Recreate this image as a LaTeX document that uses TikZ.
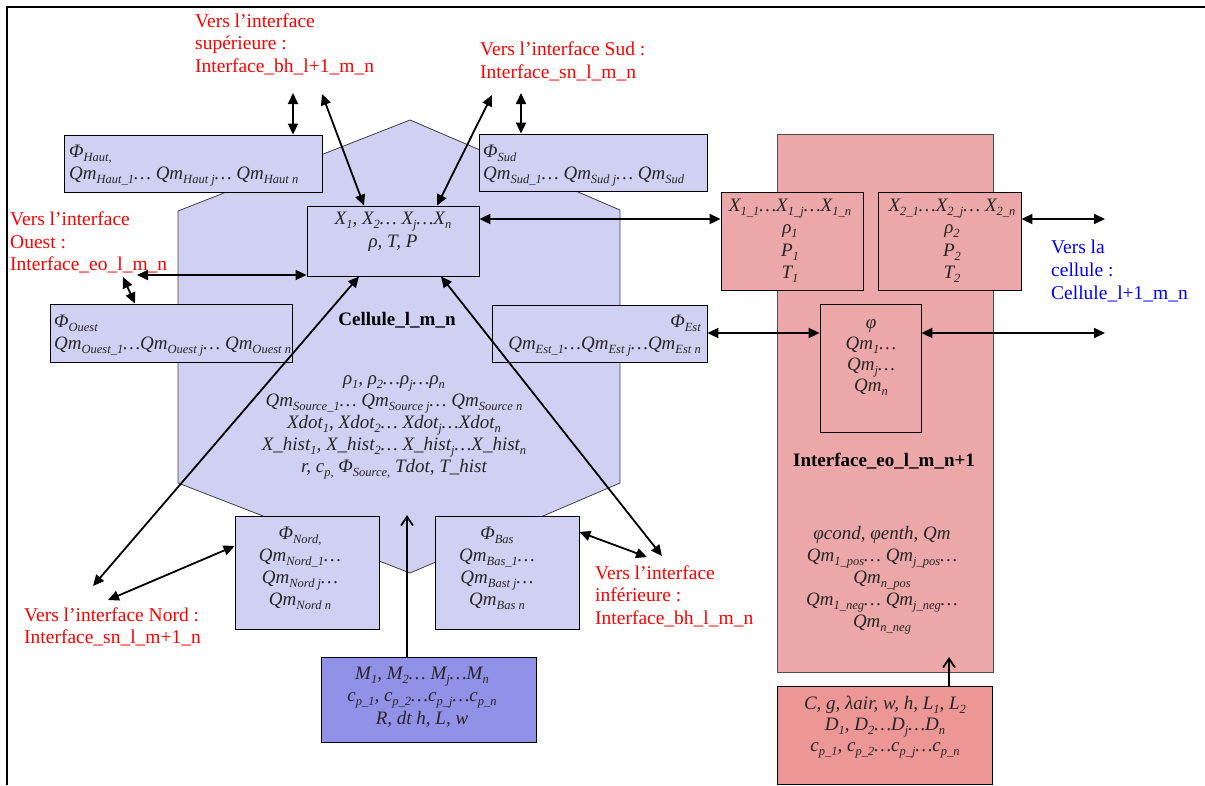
\documentclass[tikz,border=0pt]{standalone}
\usepackage{fontspec}
\setmainfont{Liberation Serif}
\usetikzlibrary{arrows.meta,fit}
\definecolor{cellblue}{RGB}{208,208,242}
\definecolor{colred}{RGB}{236,168,168}
\definecolor{hatchblue}{RGB}{145,145,232}
\definecolor{hatchred}{RGB}{236,150,150}
\definecolor{lblred}{RGB}{255,0,0}
\definecolor{lblblue}{RGB}{0,0,255}
\newcommand\mysub[1]{\raisebox{-4pt}{\fontsize{12.5}{12.5}\selectfont #1}}
\newcommand\Qm[1]{Qm\mysub{#1}}
\begin{document}
\begin{tikzpicture}[x=1pt,y=-1pt,
  every node/.style={inner sep=0pt, font=\fontsize{19}{22.5}\selectfont},
  cellbox/.style={draw=black, line width=0.8pt, fill=cellblue, inner sep=0pt},
  redbox/.style={draw=black, line width=0.8pt, fill=colred, inner sep=0pt},
  hbbox/.style={draw=black, line width=1pt, fill=hatchblue, inner sep=0pt},
  hrbox/.style={draw=black, line width=1pt, fill=hatchred, inner sep=0pt},
  lbl/.style={text=lblred, align=left, anchor=base west, font=\fontsize{19.5}{22.5}\selectfont},
  frm/.style={font=\fontsize{19}{22.5}\selectfont\itshape, text=black!85},
  bold/.style={font=\fontsize{19}{22.5}\selectfont\bfseries, anchor=base},
  dbl/.style={{Triangle[length=11pt,width=10pt]}-{Triangle[length=11pt,width=10pt]}, line width=1.8pt},
  up/.style={-{Straight Barb[length=9pt,width=12pt]}, line width=1.8pt}]
\useasboundingbox (0,0) rectangle (1205,785);
% frame
\draw[line width=2pt] (7,785) -- (7,7) -- (1205,7);
% cell hexagon
\draw[draw=black!75, line width=0.8pt, fill=cellblue] (410,120) -- (620,210) -- (620,483) -- (410,573) -- (178,483) -- (178,211) -- cycle;
% right interface column
\node[redbox, draw=black!70, fit={(777,134)(993,672)}] (col) {};
% boxes
\node[cellbox, fit={(64,135)(322,192)}] (haut) {};
\node[cellbox, fit={(479,134)(707,191)}] (sud) {};
\node[cellbox, fit={(50,304)(292,362)}] (ouest) {};
\node[cellbox, fit={(492,305)(707,362)}] (est) {};
\node[cellbox, fit={(235,516)(379,629)}] (nord) {};
\node[cellbox, fit={(435,516)(579,629)}] (bas) {};
\node[cellbox, fit={(307,206)(479,276)}] (xbox) {};
\node[hbbox, fit={(321,657)(536,742)}] (param) {};
\node[redbox, fit={(721,192)(863,290)}] (xa) {};
\node[redbox, fit={(878,192)(1021,290)}] (xb) {};
\node[redbox, fit={(820,304)(921,432)}] (phi) {};
\node[hrbox, fit={(777,686)(992,784)}] (iparam) {};
% texts in boxes (anchor base = baseline of the last line)
\node[frm, align=left, anchor=base west] (hautT) at (69,179.5) {Φ\mysub{Haut,}\\\Qm{Haut\_1}… \Qm{Haut j}… \Qm{Haut n}};
\node[frm, align=left, anchor=base west] (sudT) at (483,179.5) {Φ\mysub{Sud}\\\Qm{Sud\_1}… \Qm{Sud j}… \Qm{Sud}};
\node[frm, align=left, anchor=base west] (ouestT) at (54,349.5) {Φ\mysub{Ouest}\\\Qm{Ouest\_1}…\Qm{Ouest j}… \Qm{Ouest n}};
\node[frm, align=right, anchor=base east] (estT) at (701,349.5) {Φ\mysub{Est}\\\Qm{Est\_1}…\Qm{Est j}…\Qm{Est n}};
\node[frm, align=center, anchor=base, font=\fontsize{19}{22}\selectfont\itshape] (nordT) at (300,605) {Φ\mysub{Nord,}\\\Qm{Nord\_1}…\\\Qm{Nord j}…\\\Qm{Nord n}};
\node[frm, align=center, anchor=base, font=\fontsize{19}{22}\selectfont\itshape] (basT) at (497,605) {Φ\mysub{Bas}\\\Qm{Bas\_1}…\\\Qm{Bast j}…\\\Qm{Bas n}};
\node[frm, align=center, anchor=base, font=\fontsize{19}{23}\selectfont\itshape] (xboxT) at (393,247) {X\mysub{1}, X\mysub{2}… X\mysub{j}…X\mysub{n}\\ρ, T, P};
\node[bold] (cellT) at (397,325) {Cellule\_l\_m\_n};
\node[frm, align=center, anchor=base, font=\fontsize{19}{22}\selectfont\itshape] (cellV) at (394,472) {ρ\mysub{1}, ρ\mysub{2}…ρ\mysub{j}…ρ\mysub{n}\\
\Qm{Source\_1}… \Qm{Source j}… \Qm{Source n}\\
Xdot\mysub{1}, Xdot\mysub{2}… Xdot\mysub{j}…Xdot\mysub{n}\\
X\_hist\mysub{1}, X\_hist\mysub{2}… X\_hist\mysub{j}…X\_hist\mysub{n}\\
r, c\mysub{p,} Φ\mysub{Source,} Tdot, T\_hist};
\node[frm, align=center, anchor=base] (xaT) at (790,278.5) {X\mysub{1\_1}…X\mysub{1\_j}…X\mysub{1\_n}\\ρ\mysub{1}\\P\mysub{1}\\T\mysub{1}};
\node[frm, align=center, anchor=base] (xbT) at (952,278.5) {X\mysub{2\_1}…X\mysub{2\_j}… X\mysub{2\_n}\\ρ\mysub{2}\\P\mysub{2}\\T\mysub{2}};
\node[frm, align=center, anchor=base, font=\fontsize{19}{21}\selectfont\itshape] (phiT) at (871,391) {φ\\\Qm{1}…\\\Qm{j}…\\\Qm{n}};
\node[bold] (colT) at (884,466) {Interface\_eo\_l\_m\_n+1};
\node[frm, align=center, anchor=base, font=\fontsize{19}{22}\selectfont\itshape] (colV) at (882,627) {φcond, φenth, Qm\\\Qm{1\_pos}… \Qm{j\_pos}…\\\Qm{n\_pos}\\\Qm{1\_neg}… \Qm{j\_neg}…\\\Qm{n\_neg}};
\node[frm, align=center, anchor=base, font=\fontsize{19}{21}\selectfont\itshape] (iparamT) at (885,751) {C, g, λair, w, h, L\mysub{1}, L\mysub{2}\\D\mysub{1}, D\mysub{2}…D\mysub{j}…D\mysub{n}\\c\mysub{p\_1}, c\mysub{p\_2}…c\mysub{p\_j}…c\mysub{p\_n}};
\node[frm, align=center, anchor=base] (paramT) at (422,724) {M\mysub{1}, M\mysub{2}… M\mysub{j}…M\mysub{n}\\c\mysub{p\_1}, c\mysub{p\_2}…c\mysub{p\_j}…c\mysub{p\_n}\\R, dt h, L, w};
% labels
\node[lbl] (supL) at (195,72) {Vers l’interface\\supérieure :\\Interface\_bh\_l+1\_m\_n};
\node[lbl] (sudL) at (480,78) {Vers l’interface Sud :\\Interface\_sn\_l\_m\_n};
\node[lbl] (ouestL) at (10,270.5) {Vers l’interface\\Ouest :\\Interface\_eo\_l\_m\_n};
\node[lbl] (nordL) at (24,643.5) {Vers l’interface Nord :\\Interface\_sn\_l\_m+1\_n};
\node[lbl] (infL) at (595,624) {Vers l’interface\\inférieure :\\Interface\_bh\_l\_m\_n};
\node[lbl, text=lblblue, font=\fontsize{19.5}{23}\selectfont] (cellL) at (1051,299) {Vers la\\cellule :\\Cellule\_l+1\_m\_n};
% connectors
\coordinate (supA) at (293,93);
\draw[dbl] (supA) -- (supA |- haut.north);
\coordinate (supB) at (322,94);
\draw[dbl] (supB) -- (xbox.north -| 364,0);
\coordinate (sudA) at (521,93);
\draw[dbl] (sudA) -- (sudA |- sud.north);
\coordinate (sudB) at (492,95);
\draw[dbl] (sudB) -- (xbox.north -| 437,0);
\draw[dbl] (xbox.east |- 0,219) -- (xa.west |- 0,219);
\coordinate (eastA) at (1105,219);
\draw[dbl] (xb.east |- eastA) -- (eastA);
\draw[dbl] (est.east |- 0,333) -- (phi.west |- 0,333);
\coordinate (eastB) at (1105,333);
\draw[dbl] (phi.east |- eastB) -- (eastB);
\coordinate (ouestA) at (123,277);
\draw[dbl] (ouestA) -- (ouest.north -| 135,0);
\coordinate (ouestB) at (137,275);
\draw[dbl] (ouestB) -- (xbox.west |- ouestB);
\coordinate (nordA) at (93,586);
\draw[dbl] (xbox.south -| 359,0) -- (nordA);
\coordinate (nordB) at (108,600);
\draw[dbl] (nord.west |- 0,546) -- (nordB);
\coordinate (infA) at (662,556);
\draw[dbl] (xbox.south -| 441,0) -- (infA);
\coordinate (infB) at (647,557);
\draw[dbl] (bas.east |- 0,532) -- (infB);
\coordinate (cellbot) at (407,515);
\draw[up] (param.north -| cellbot) -- (cellbot);
\coordinate (colbot) at (949,657);
\draw[up] (iparam.north -| colbot) -- (colbot);
\end{tikzpicture}
\end{document}
